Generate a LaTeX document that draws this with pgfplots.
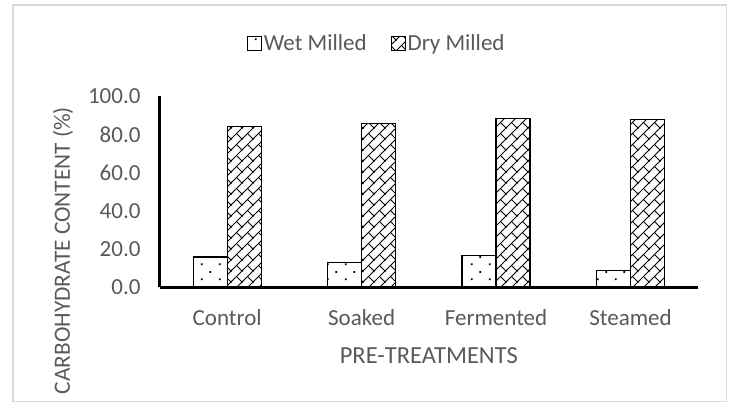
\documentclass[border=0pt]{standalone}
\usepackage{pgfplots}
\pgfplotsset{compat=1.18}
\usepackage{fontspec}
\setmainfont{Carlito}
\usetikzlibrary{patterns.meta}
\definecolor{txt}{HTML}{595959}
\definecolor{frame}{HTML}{D9D9D9}

\tikzdeclarepattern{name=xldots, type=uncolored,
  bounding box={(0pt,0pt) and (18pt,15pt)}, tile size={(18pt,15pt)},
  code={\fill (3pt,3pt) rectangle (4.8pt,4.8pt); \fill (12pt,10.5pt) rectangle (13.8pt,12.3pt);}}

\tikzdeclarepattern{name=xlbrick, type=uncolored,
  bounding box={(-1pt,-1pt) and (12pt,12pt)}, tile size={(11pt,11pt)},
  code={\draw[line width=0.8pt] (-1pt,-1pt) -- (12pt,12pt); \draw[line width=0.8pt] (5.5pt,5.5pt) -- (11.5pt,-0.5pt);}}

\newcommand{\f}{\fontsize{23}{27}\selectfont}
\newcommand{\g}{\fontsize{24.5}{29}\selectfont}
\newcommand{\h}{\fontsize{23.3}{28}\selectfont}

\begin{document}
\begin{tikzpicture}[x=1pt,y=1pt]
\useasboundingbox (0,0) rectangle (729,403);
\draw[frame, line width=1.2pt] (13,1.5) rectangle (726.5,398);
\begin{axis}[
  at={(160pt,115.5pt)}, anchor=south west,
  scale only axis, width=537.7pt, height=191pt,
  xmin=-0.5, xmax=3.5, ymin=0, ymax=100,
  axis x line=bottom, axis y line=left,
  axis line style={-, line width=3pt, black},
  xtick={0,1,2,3},
  xticklabels={Control,Soaked,Fermented,Steamed},
  ytick={0,20,40,60,80,100},
  major tick length=0pt,
  tick style={draw=none},
  /pgf/number format/.cd, fixed, fixed zerofill, precision=1, assume math mode=true,
  /pgfplots/.cd,
  tick label style={font=\f, text=txt},
  yticklabel style={anchor=east, xshift=-16pt},
  xticklabel style={anchor=north, yshift=-19pt},
  xlabel={PRE-TREATMENTS},
  xlabel style={font=\g, text=txt, at={(axis description cs:0.5,-0.359)}, anchor=center},
  ylabel={CARBOHYDRATE CONTENT (\%)},
  ylabel style={font=\h, text=txt, at={(axis description cs:-0.1804,0.963)}, anchor=east},
  ybar=0pt, bar width=34pt,
  legend columns=2,
  legend style={at={(0.403,1.28)}, anchor=center, draw=none, font=\f, text=txt,
    /tikz/every even column/.append style={column sep=22pt}},
  legend image code/.code={\draw[#1, line width=1pt] (0pt,-7pt) rectangle (14pt,7pt);},
]
\addplot[pattern=xldots, pattern color=black, draw=black, line width=1.3pt]
  coordinates {(0,15.9) (1,13.2) (2,16.7) (3,8.8)};
\addplot[pattern=xlbrick, pattern color=black, draw=black, line width=1.3pt]
  coordinates {(0,84.4) (1,85.7) (2,88.3) (3,87.9)};
\legend{Wet Milled, Dry Milled}
\end{axis}
\end{tikzpicture}
\end{document}
